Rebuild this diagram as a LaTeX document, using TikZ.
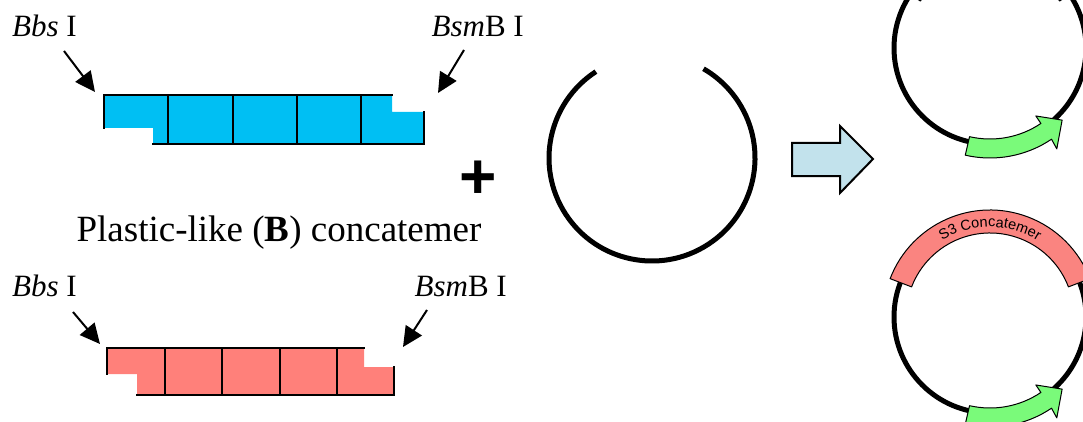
\documentclass[tikz,border=0pt]{standalone}
\usepackage{fontspec}
\setmainfont{Liberation Serif}
\setsansfont{Liberation Sans}
\usetikzlibrary{arrows.meta,calc,decorations.text}
\definecolor{concblue}{RGB}{0,191,243}
\definecolor{concred}{RGB}{255,128,122}
\definecolor{bandred}{RGB}{250,132,128}
\definecolor{genegreen}{RGB}{122,250,122}
\definecolor{arrowblue}{RGB}{194,226,236}
\tikzset{
  lbl/.style={inner sep=0pt, font=\fontsize{31}{36}\selectfont},
  cutarrow/.style={line width=2pt, -{Triangle[length=20pt,width=19pt]}},
  concline/.style={line width=1.6pt, line cap=rect},
  plasmid/.style={line width=5pt},
  bandshape/.style={draw=black, line width=1pt, line join=round},
  genearrow/.style={draw=black, line width=1pt, fill=genegreen, line join=round},
}
\begin{document}
\begin{tikzpicture}[x=1pt,y=1pt]
\useasboundingbox (0,0) rectangle (1083,421);
\clip (0,0) rectangle (1083,421);

% ---------- blue concatemer ----------
\fill[concblue] (104,326) -- (392,326) -- (392,309) -- (424,309) -- (424,277)
   -- (153,277) -- (153,293) -- (104,293) -- cycle;
\draw[concline] (104,293) -- (104,326) -- (392,326);
\draw[concline] (153,277) -- (424,277) -- (424,309);
\foreach \x in {168,233,297,361} \draw[concline] (\x,277) -- (\x,326);

% ---------- red concatemer ----------
\fill[concred] (107,73) -- (364,73) -- (364,54) -- (394,54) -- (394,26)
   -- (137,26) -- (137,47) -- (107,47) -- cycle;
\draw[concline] (107,47) -- (107,73) -- (364,73);
\draw[concline] (137,26) -- (394,26) -- (394,54);
\foreach \x in {165,222,280,337} \draw[concline] (\x,26) -- (\x,73);

% ---------- labels ----------
\node[lbl, anchor=base west] (bbsTop) at (12,384) {\textit{Bbs} I};
\node[lbl, anchor=base east] (bsmTop) at (524,384) {\textit{Bsm}B I};
\node[lbl, anchor=base west] (bbsBot) at (12,125) {\textit{Bbs} I};
\node[lbl, anchor=base east] (bsmBot) at (507,125) {\textit{Bsm}B I};
\node[inner sep=0pt, anchor=base, font=\fontsize{37}{42}\selectfont] (plastic)
   at (279,180) {Plastic-like (\textbf{B}) concatemer};

% ---------- cut-site arrows ----------
\coordinate (a1s) at (64,370);  \coordinate (a1e) at (95,329);
\coordinate (a2s) at (464,371); \coordinate (a2e) at (438,328);
\coordinate (a3s) at (73,109);  \coordinate (a3e) at (100,77);
\coordinate (a4s) at (427,111); \coordinate (a4e) at (403,74);
\draw[cutarrow] (a1s) -- (a1e);
\draw[cutarrow] (a2s) -- (a2e);
\draw[cutarrow] (a3s) -- (a3e);
\draw[cutarrow] (a4s) -- (a4e);

% ---------- plus ----------
\node[inner sep=0pt, font=\sffamily\bfseries\fontsize{64}{64}\selectfont] (plus) at (478,241) {+};

% ---------- open vector ----------
\coordinate (vc) at (652,263);
\draw[plasmid] ($(vc)+(123:103)$) arc[start angle=123, end angle=420, radius=103];

% ---------- block arrow ----------
\draw[line width=2pt, fill=arrowblue, line join=miter] (792,278) -- (840,278) -- (840,295)
   -- (873,262) -- (840,228) -- (840,245) -- (792,245) -- cycle;

% ---------- top plasmid ----------
\coordinate (pt) at (990,373);
\draw[plasmid] (pt) circle[radius=96];
\draw[bandshape, fill=concblue] ($(pt)+(146:107)$) arc[start angle=146, end angle=34, radius=107]
   -- ($(pt)+(34:84)$) arc[start angle=34, end angle=146, radius=84] -- cycle;
\draw[genearrow] ($(pt)+(-103:91)$) arc[start angle=-103, end angle=-56, radius=91]
   -- ($(pt)+(-56:82)$) -- ($(pt)+(-45:102)$) -- ($(pt)+(-56.5:121)$) -- ($(pt)+(-56:110)$)
   arc[start angle=-56, end angle=-103, radius=110] -- cycle;

% ---------- bottom plasmid ----------
\coordinate (pb) at (990,104);
\draw[plasmid] (pb) circle[radius=96];
\draw[bandshape, fill=bandred] ($(pb)+(159:107)$) arc[start angle=159, end angle=21, radius=107]
   -- ($(pb)+(21:84)$) arc[start angle=21, end angle=159, radius=84] -- cycle;
\path[decorate, decoration={text along path, text align=center,
   text={|\sffamily\fontsize{14.5}{15}\selectfont|S3 Concatemer}}]
   ($(pb)+(159:90)$) arc[start angle=159, end angle=21, radius=90];
\draw[genearrow] ($(pb)+(-103:91)$) arc[start angle=-103, end angle=-56, radius=91]
   -- ($(pb)+(-56:82)$) -- ($(pb)+(-45:102)$) -- ($(pb)+(-56.5:121)$) -- ($(pb)+(-56:110)$)
   arc[start angle=-56, end angle=-103, radius=110] -- cycle;
\end{tikzpicture}
\end{document}
